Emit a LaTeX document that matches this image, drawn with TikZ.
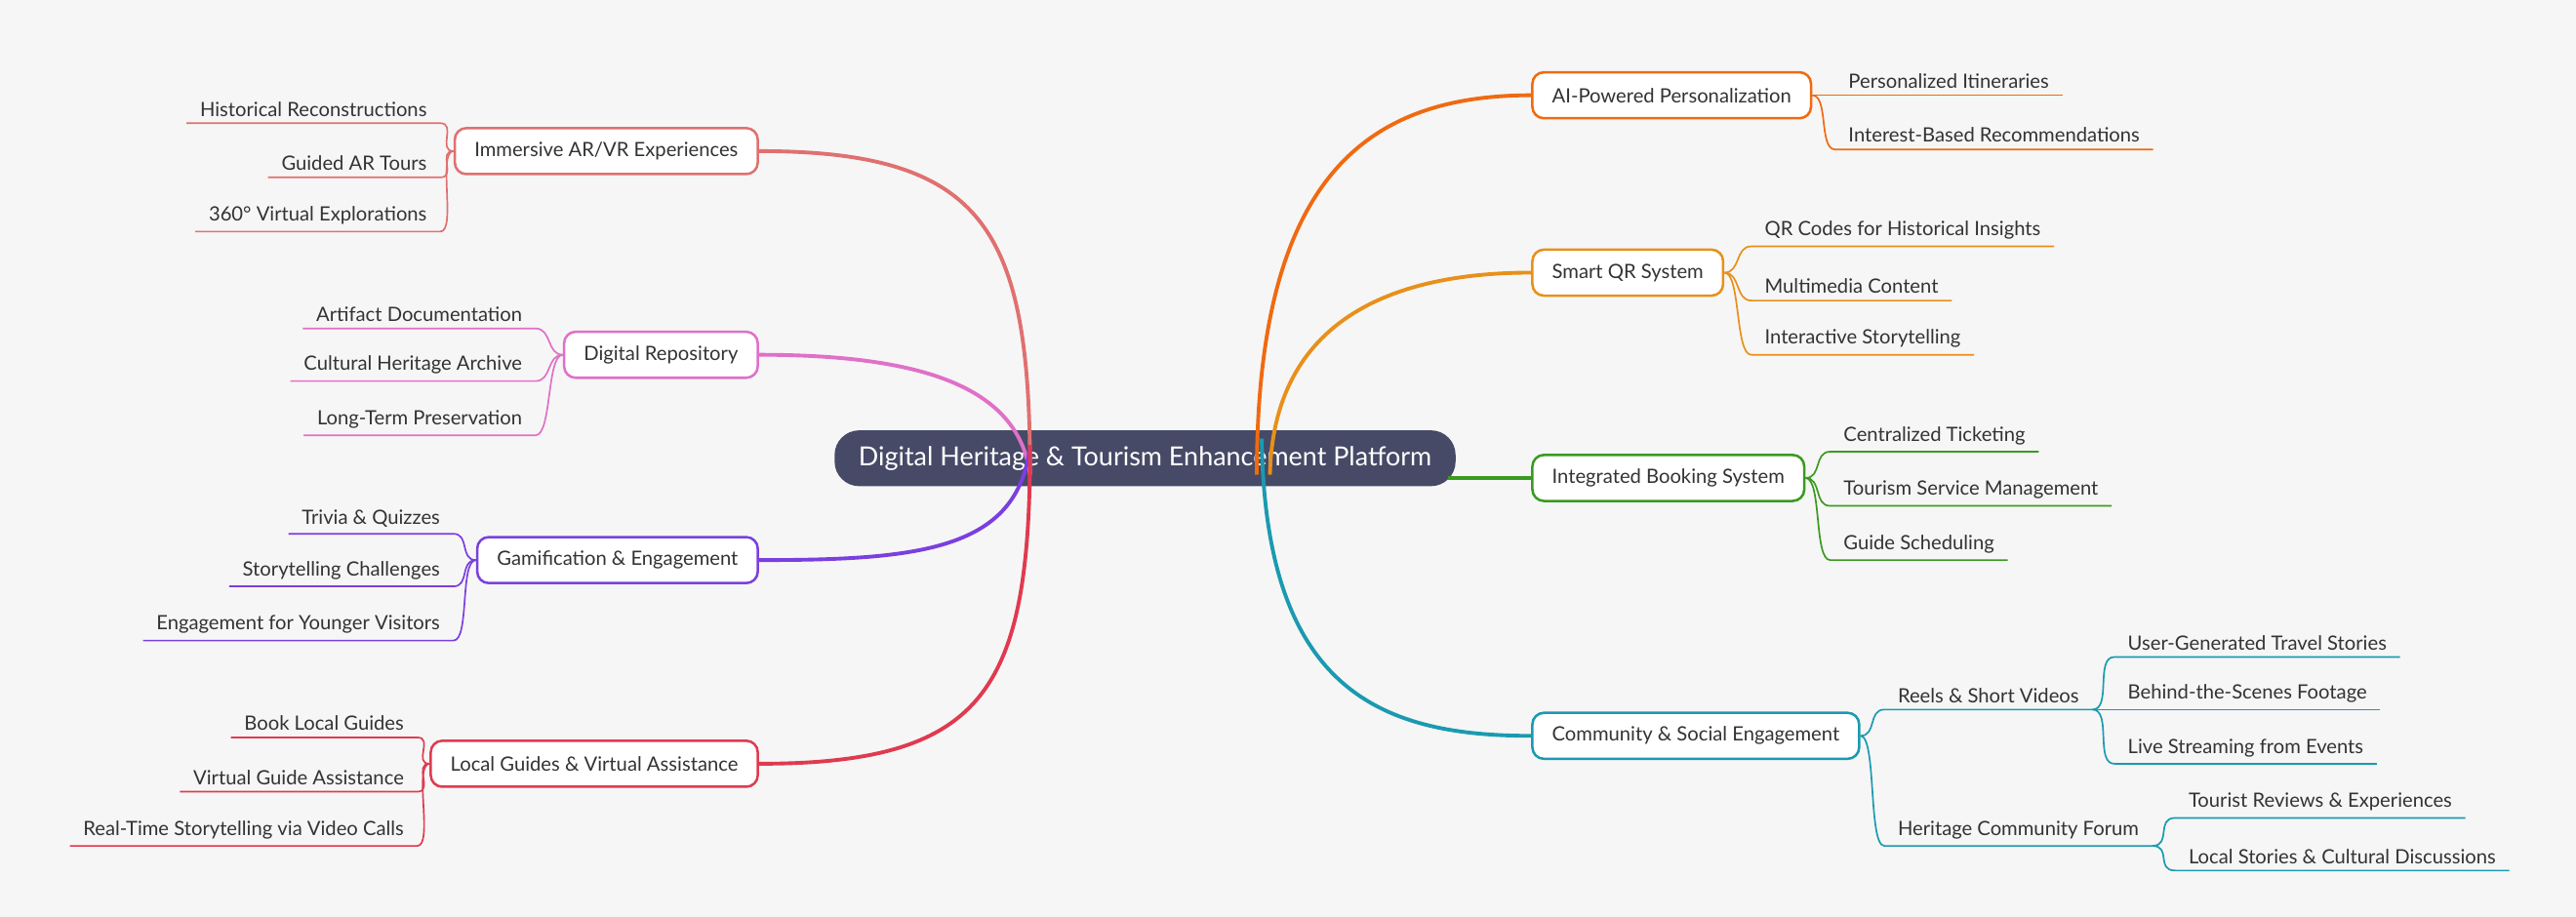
\documentclass[tikz,border=0pt]{standalone}
\usepackage{fontspec}
\setmainfont{Lato}
\begin{document}
\begin{tikzpicture}[x=1pt,y=-1pt,
  every node/.style={font=\fontsize{12}{14}\selectfont, text=black!80},
  box/.style={draw, line width=1.5pt, rounded corners=7pt, fill=white, minimum height=28pt, inner xsep=12pt},
  leaf/.style={inner xsep=8pt, inner ysep=4pt},
  mainc/.style={line width=2.3pt},
  leafc/.style={line width=1pt}]
\useasboundingbox[fill={rgb,255:red,246;green,246;blue,246}] (0,0) rectangle (1568,558.3);
\definecolor{cAR}{HTML}{E07070}\definecolor{cDR}{HTML}{E070C8}
\definecolor{cGA}{HTML}{7B3FE0}\definecolor{cLG}{HTML}{E03A50}
\definecolor{cAI}{HTML}{F06A10}\definecolor{cQR}{HTML}{E8901A}
\definecolor{cIB}{HTML}{3A9A20}\definecolor{cCS}{HTML}{1A9AB0}
% left leaf: #1 name #2 color #3 parent #4 x_end #5 y_ul #6 text
\newcommand\leafL[6]{\node[leaf,anchor=south east] (#1) at (#4,#5) {#6};
 \draw[#2,leafc] (#1.south west) -- (#1.south east) .. controls +(10,0) and +(-10,0) .. (#3.west);}
\newcommand\leafR[6]{\node[leaf,anchor=south west] (#1) at (#4,#5) {#6};
 \draw[#2,leafc] (#3.east) .. controls +(10,0) and +(-10,0) .. (#1.south west) -- (#1.south east);}
\newcommand\leafRs[6]{\node[leaf,anchor=south west] (#1) at (#4,#5) {#6};
 \draw[#2,leafc] (#3.south east) .. controls +(12,0) and +(-12,0) .. (#1.south west) -- (#1.south east);}

\node[fill={rgb,255:red,70;green,74;blue,102}, rounded corners=15pt, minimum height=34pt, minimum width=378pt, text=white, font=\fontsize{16}{18}\selectfont] (C) at (697,279) {Digital Heritage \& Tourism Enhancement Platform};

% left boxes
\node[box,draw=cAR,anchor=east] (AR) at (462,92) {Immersive AR/VR Experiences};
\node[box,draw=cDR,anchor=east] (DR) at (462,216) {Digital Repository};
\node[box,draw=cGA,anchor=east] (GA) at (462,341) {Gamification \& Engagement};
\node[box,draw=cLG,anchor=east] (LG) at (462,465) {Local Guides \& Virtual Assistance};
\coordinate (cl) at (627,279);
\coordinate (cr) at (765,279);
\draw[cAR,mainc] ([yshift=-10pt]cl) .. controls (627,140) and (600,92) .. (AR.east);
\draw[cDR,mainc] ([yshift=-10pt]cl) .. controls (620,235) and (560,216) .. (DR.east);
\draw[cGA,mainc] ([yshift=8pt]cl) .. controls (620,335) and (560,341) .. (GA.east);
\draw[cLG,mainc] ([yshift=8pt]cl) .. controls (627,420) and (600,465) .. (LG.east);

\leafL{a1}{cAR}{AR}{268}{75}{Historical Reconstructions}
\leafL{a2}{cAR}{AR}{268}{108}{Guided AR Tours}
\leafL{a3}{cAR}{AR}{268}{141}{360° Virtual Explorations}
\leafL{d1}{cDR}{DR}{326}{200}{Artifact Documentation}
\leafL{d2}{cDR}{DR}{326}{232}{Cultural Heritage Archive}
\leafL{d3}{cDR}{DR}{326}{265}{Long-Term Preservation}
\leafL{g1}{cGA}{GA}{276}{325}{Trivia \& Quizzes}
\leafL{g2}{cGA}{GA}{276}{357}{Storytelling Challenges}
\leafL{g3}{cGA}{GA}{276}{390}{Engagement for Younger Visitors}
\leafL{l1}{cLG}{LG}{254}{449}{Book Local Guides}
\leafL{l2}{cLG}{LG}{254}{482}{Virtual Guide Assistance}
\leafL{l3}{cLG}{LG}{254}{515}{Real-Time Storytelling via Video Calls}

% right boxes
\node[box,draw=cAI,anchor=west] (AI) at (932,58) {AI-Powered Personalization};
\node[box,draw=cQR,anchor=west] (QR) at (932,166) {Smart QR System};
\node[box,draw=cIB,anchor=west] (IB) at (932,291) {Integrated Booking System};
\node[box,draw=cCS,anchor=west] (CS) at (932,448) {Community \& Social Engagement};
\draw[cAI,mainc] ([yshift=-10pt]cr) .. controls (765,110) and (830,58) .. (AI.west);
\draw[cQR,mainc] ([yshift=-10pt,xshift=8pt]cr) .. controls (775,200) and (840,166) .. (QR.west);
\draw[cIB,mainc] (C.east|-IB.west) ++(-5,0) -- (IB.west);
\draw[cCS,mainc] ([yshift=12pt,xshift=3pt]cr) .. controls (770,420) and (840,448) .. (CS.west);

\leafR{i1}{cAI}{AI}{1117}{58}{Personalized Itineraries}
\leafR{i2}{cAI}{AI}{1117}{91}{Interest-Based Recommendations}
\leafR{q1}{cQR}{QR}{1066}{150}{QR Codes for Historical Insights}
\leafR{q2}{cQR}{QR}{1066}{183}{Multimedia Content}
\leafR{q3}{cQR}{QR}{1066}{216}{Interactive Storytelling}
\leafR{b1}{cIB}{IB}{1114}{275}{Centralized Ticketing}
\leafR{b2}{cIB}{IB}{1114}{308}{Tourism Service Management}
\leafR{b3}{cIB}{IB}{1114}{341}{Guide Scheduling}
\leafR{s1}{cCS}{CS}{1147}{432}{Reels \& Short Videos}
\leafR{s2}{cCS}{CS}{1147}{515}{Heritage Community Forum}
\leafRs{r1}{cCS}{s1}{1287}{400}{User-Generated Travel Stories}
\leafRs{r2}{cCS}{s1}{1287}{432}{Behind-the-Scenes Footage}
\leafRs{r3}{cCS}{s1}{1287}{465}{Live Streaming from Events}
\leafRs{f1}{cCS}{s2}{1324}{498}{Tourist Reviews \& Experiences}
\leafRs{f2}{cCS}{s2}{1324}{530}{Local Stories \& Cultural Discussions}
\end{tikzpicture}
\end{document}
